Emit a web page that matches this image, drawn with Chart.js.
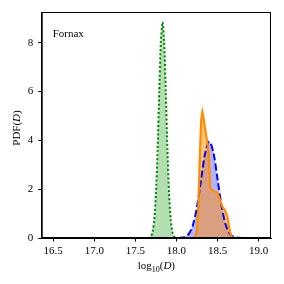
<!DOCTYPE html>
<html>
<head>
<meta charset="utf-8">
<script src="https://cdn.jsdelivr.net/npm/chart.js@4.4.1/dist/chart.umd.min.js"></script>
<style>
  html, body { margin: 0; padding: 0; background: #fff; }
  #wrap { width: 284px; height: 284px; }
</style>
</head>
<body>
<div id="wrap"><canvas id="pdfChart" width="284" height="284"></canvas></div>
<script>
// Fornax PDF curves

// green dotted curve
const greenX = [16.48, 17.66, 17.69, 17.71, 17.73, 17.75, 17.77, 17.79, 17.81, 17.83, 17.85, 17.87, 17.89, 17.91, 17.93, 17.95, 17.97, 18.00];
const greenY = [0, 0, 0.07, 0.25, 0.75, 1.8, 3.6, 5.97, 8.05, 8.85, 8.05, 5.97, 3.6, 1.8, 0.75, 0.25, 0.07, 0];

// blue dashed curve
const blueX = [18.02, 18.10, 18.15, 18.20, 18.25, 18.30, 18.35, 18.40, 18.45, 18.50, 18.55, 18.60, 18.65, 18.70, 18.80, 19.05];
const blueY = [0, 0.04, 0.17, 0.53, 1.28, 2.40, 3.49, 3.95, 3.49, 2.40, 1.28, 0.53, 0.17, 0.04, 0, 0];

// orange solid curve
const orangeX = [18.22, 18.25, 18.265, 18.28, 18.30, 18.315, 18.33, 18.35, 18.39, 18.41, 18.44, 18.50, 18.56, 18.59, 18.62, 18.655, 18.68];
const orangeY = [0, 0.3, 1.15, 2.9, 4.84, 5.16, 4.9, 4.43, 3.6, 2.05, 1.95, 1.84, 1.27, 1.15, 0.86, 0.2, 0];

const xTicks = [16.5, 17.0, 17.5, 18.0, 18.5, 19.0];
const yTicks = [0, 2, 4, 6, 8];

const serif = '"Liberation Serif", "DejaVu Serif", serif';

function toPoints(xs, ys) {
    return xs.map((x, i) => ({ x: x, y: ys[i] }));
}

// draw a run of [text, font, dy] pieces centred on (cx, cy)
function drawPieces(ctx, pieces, cx, cy) {
    let total = 0;
    pieces.forEach(p => { ctx.font = p[1]; total += ctx.measureText(p[0]).width; });
    let x = cx - total / 2;
    pieces.forEach(p => {
        ctx.font = p[1];
        ctx.fillText(p[0], x, cy + p[2]);
        x += ctx.measureText(p[0]).width;
    });
}

// box around the plot area, the "Fornax" label and the axis titles
const frame = {
    id: 'frame',
    afterDraw(chart) {
        const { ctx, chartArea: a } = chart;
        const reg = '11px ' + serif;
        const ital = 'italic 11px ' + serif;
        const sub = '8px ' + serif;
        ctx.save();
        ctx.strokeStyle = '#000';
        ctx.lineWidth = 1;
        ctx.strokeRect(a.left + 0.5, a.top + 0.5, a.right - a.left - 1, a.bottom - a.top - 1);
        ctx.fillStyle = '#000';
        ctx.textBaseline = 'alphabetic';
        ctx.font = reg;
        ctx.fillText('Fornax', a.left + 11, a.top + 25);

        // x title
        drawPieces(ctx, [['log', reg, 0], ['10', sub, 2.5], ['(', reg, 0], ['D', ital, 0], [')', reg, 0]],
            (a.left + a.right) / 2, 269);

        // y title, rotated
        ctx.translate(20, (a.top + a.bottom) / 2 + 3);
        ctx.rotate(-Math.PI / 2);
        drawPieces(ctx, [['PDF(', reg, 0], ['D', ital, 0], [')', reg, 0]], 0, 0);
        ctx.restore();
    }
};

const ctx = document.getElementById('pdfChart').getContext('2d');

new Chart(ctx, {
    type: 'line',
    data: {
        datasets: [
            {
                label: 'green',
                data: toPoints(greenX, greenY),
                borderColor: '#008000',
                backgroundColor: 'rgba(0, 150, 0, 0.3)',
                borderWidth: 2,
                borderDash: [2, 2.2],
                fill: 'origin',
                pointRadius: 0,
                tension: 0.2,
                order: 3
            },
            {
                label: 'blue',
                data: toPoints(blueX, blueY),
                borderColor: '#0000ff',
                backgroundColor: 'rgba(0, 0, 255, 0.3)',
                borderWidth: 2,
                borderDash: [7, 3],
                fill: 'origin',
                pointRadius: 0,
                tension: 0.3,
                order: 2
            },
            {
                label: 'orange',
                data: toPoints(orangeX, orangeY),
                borderColor: '#ff8c00',
                backgroundColor: 'rgba(255, 140, 0, 0.5)',
                borderWidth: 2.2,
                fill: 'origin',
                pointRadius: 0,
                tension: 0,
                order: 1
            }
        ]
    },
    options: {
        responsive: false,
        animation: false,
        layout: { padding: { left: 0, right: 13, top: 12, bottom: 0 } },
        plugins: {
            legend: { display: false },
            tooltip: { enabled: false },
            filler: { drawTime: 'beforeDatasetsDraw' }
        },
        scales: {
            x: {
                type: 'linear',
                min: 16.36,
                max: 19.15,
                afterBuildTicks: (scale) => { scale.ticks = xTicks.map(v => ({ value: v })); },
                afterFit: (scale) => { scale.height = 46; },
                grid: { drawOnChartArea: false, drawTicks: true, tickLength: 3.5, color: '#000' },
                border: { display: true, color: '#000' },
                ticks: {
                    color: '#000',
                    font: { family: serif, size: 11 },
                    padding: 3,
                    maxRotation: 0,
                    callback: (v) => Number(v).toFixed(1)
                }
            },
            y: {
                min: 0,
                max: 9.26,
                afterBuildTicks: (scale) => { scale.ticks = yTicks.map(v => ({ value: v })); },
                afterFit: (scale) => { scale.width = 41.7; },
                grid: { drawOnChartArea: false, drawTicks: true, tickLength: 3.5, color: '#000' },
                border: { display: true, color: '#000' },
                ticks: {
                    color: '#000',
                    font: { family: serif, size: 11 },
                    padding: 5
                }
            }
        }
    },
    plugins: [frame]
});
</script>
</body>
</html>
